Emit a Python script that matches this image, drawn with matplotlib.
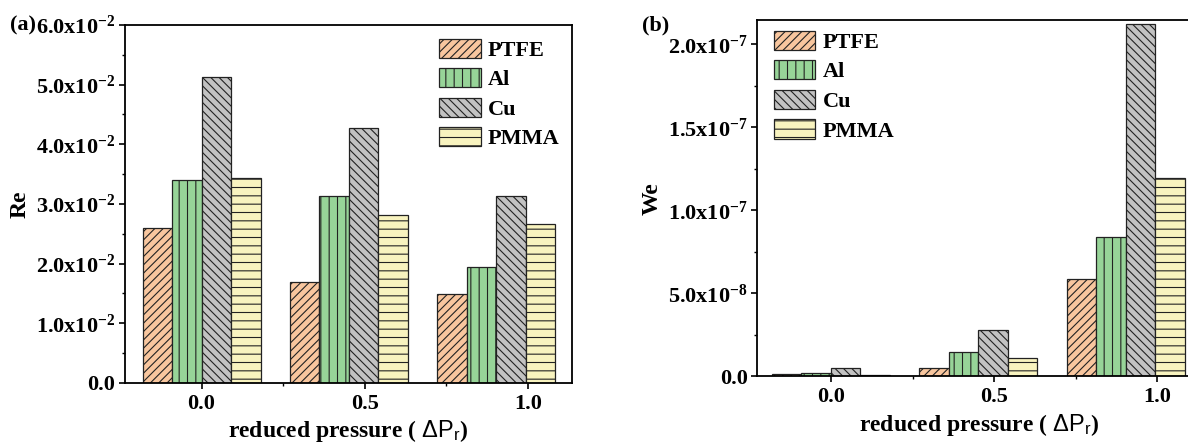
import numpy as np
import matplotlib
matplotlib.use('Agg')
import matplotlib.pyplot as plt
from matplotlib.ticker import FixedLocator, FuncFormatter

plt.rcParams['font.family'] = ['Liberation Serif', 'DejaVu Serif']
plt.rcParams['font.weight'] = 'bold'
plt.rcParams['axes.labelweight'] = 'bold'
plt.rcParams['mathtext.fontset'] = 'custom'
plt.rcParams['mathtext.default'] = 'regular'
plt.rcParams['mathtext.sf'] = 'Liberation Sans:normal'
plt.rcParams['mathtext.rm'] = 'Liberation Serif:bold'
plt.rcParams['hatch.linewidth'] = 0.8

# reduced pressure categories
pressure_labels = ['0.0', '0.5', '1.0']
materials = ['PTFE', 'Al', 'Cu', 'PMMA']

# Reynolds number
re_ptfe = [0.0259, 0.0169, 0.0149]
re_al = [0.0341, 0.0313, 0.0195]
re_cu = [0.0513, 0.0427, 0.0313]
re_pmma = [0.0344, 0.0281, 0.0267]

# Weber number
we_ptfe = [1.4e-9, 5.0e-9, 5.88e-8]
we_al = [2.2e-9, 1.45e-8, 8.41e-8]
we_cu = [4.8e-9, 2.79e-8, 2.122e-7]
we_pmma = [1.0e-9, 1.08e-8, 1.193e-7]

colors = ['#F8C69E', '#97D498', '#C2C2C2', '#F8F3BF']
hatches = ['////', '||', '\\\\\\\\', '--']
bar_w = 0.2
tick_step = 1.107  # axis ticks are spread a bit wider than the bar groups


def sci_fmt(v, pos):
    if abs(v) < 1e-15:
        return '0.0'
    exp = int(np.floor(np.log10(abs(v))))
    mant = v / 10 ** exp
    return '%.1fx10$^{%d}$' % (mant, exp)


def draw_panel(ax, series, ylabel, ymax, ymajor, yminor, xlim):
    x = np.arange(len(pressure_labels))
    for i, (vals, name) in enumerate(zip(series, materials)):
        ax.bar(x + (i - 1.5) * bar_w, vals, width=bar_w, color=colors[i],
               edgecolor='#222222', linewidth=0.9, hatch=hatches[i], label=name)
    ax.set_xlim(*xlim)
    ax.set_ylim(0, ymax)
    ticks = x * tick_step
    ax.xaxis.set_major_locator(FixedLocator(ticks))
    ax.xaxis.set_minor_locator(FixedLocator((ticks[:-1] + ticks[1:]) / 2))
    ax.set_xticklabels(pressure_labels)
    ax.yaxis.set_major_locator(FixedLocator(ymajor))
    ax.yaxis.set_minor_locator(FixedLocator(yminor))
    ax.yaxis.set_major_formatter(FuncFormatter(sci_fmt))
    ax.tick_params(which='major', direction='out', length=4, width=1.2,
                   labelsize=16, pad=3)
    ax.tick_params(which='minor', direction='out', length=2.5, width=1.0)
    ax.tick_params(axis='x', pad=4)
    for s in ax.spines.values():
        s.set_linewidth(1.3)
    ax.set_ylabel(ylabel, fontsize=17, labelpad=4)
    ax.set_xlabel(r'reduced pressure ( $\mathsf{\Delta P_r}$)', fontsize=17, labelpad=3)


fig = plt.figure(figsize=(11.88, 4.47), dpi=100)

ax1 = fig.add_axes([0.1052, 0.1432, 0.376, 0.8009])
draw_panel(ax1, [re_ptfe, re_al, re_cu, re_pmma], 'Re', 0.06,
           np.arange(0, 0.061, 0.01), np.arange(0.005, 0.06, 0.01), (-0.519, 2.51))
ax1.legend(loc='upper left', bbox_to_anchor=(0.704, 0.962), frameon=False,
           fontsize=16, handlelength=1.85, handleheight=0.95, labelspacing=0.33,
           handletextpad=0.33, borderpad=0, borderaxespad=0)
fig.text(0.008, 0.942, '(a)', fontsize=16, va='center', ha='left')

ax2 = fig.add_axes([0.6375, 0.1582, 0.3732, 0.7971])
draw_panel(ax2, [we_ptfe, we_al, we_cu, we_pmma], 'We', 2.146e-7,
           np.arange(0, 2.01e-7, 0.5e-7), np.arange(0.25e-7, 2.1e-7, 0.5e-7), (-0.499, 2.507))
ax2.legend(loc='upper left', bbox_to_anchor=(0.0377, 0.97), frameon=False,
           fontsize=16, handlelength=1.85, handleheight=0.95, labelspacing=0.33,
           handletextpad=0.33, borderpad=0, borderaxespad=0)
fig.text(0.540, 0.942, '(b)', fontsize=16, va='center', ha='left')

fig.savefig('out.png', dpi=100)
